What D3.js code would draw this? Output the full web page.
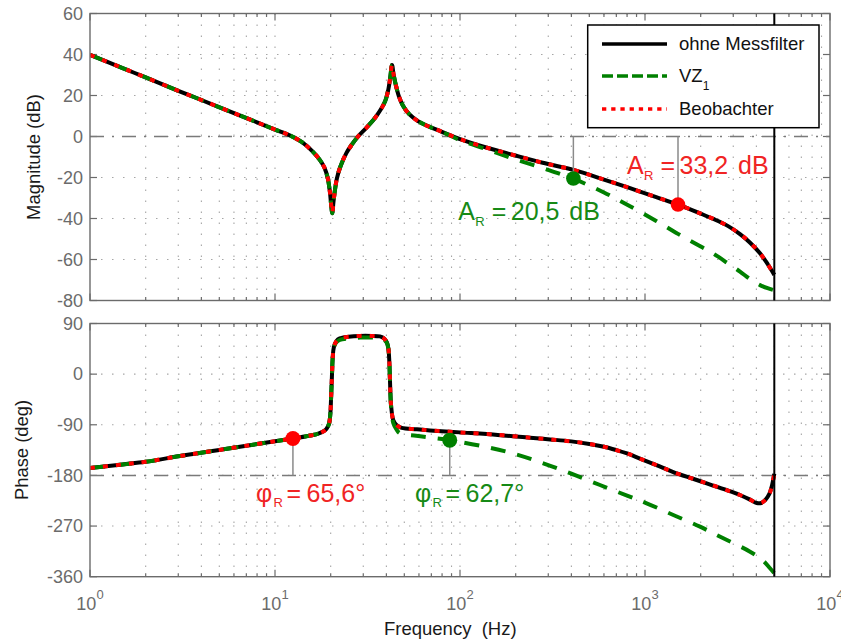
<!DOCTYPE html>
<html><head><meta charset="utf-8">
<script src="https://cdn.jsdelivr.net/npm/d3@7"></script>
<style>
body{margin:0;background:#fff}
svg{display:block}
text{font-family:"Liberation Sans",Arial,Helvetica,sans-serif}
</style>
</head><body>
<svg id="chart" width="841" height="640"></svg>
<script>
// ---------------- DATA ----------------
// Magnitude (dB) vs frequency (Hz)
const magFreq = [1,1.5,2,3,4,6,8,10,12,14,16,17.5,18.5,19.3,19.8,20.1,20.4,20.7,21.1,21.6,22.5,24.3,26,28.1,31,34.6,37.5,39.5,41,42,42.9,43.8,45.3,47,49.2,53,59.3,68,79.3,100,140,194,280,410,600,830,1150,1508,2000,2340,2800,3262,3700,4185,4600,5000];
const magOhne = [39.8,33.4,28.8,22.3,17.8,11.4,6.9,3.4,0.6,-2.8,-7.4,-11.5,-15.2,-20.5,-27,-33,-37.4,-32,-26,-20.5,-15,-8.1,-4,0,4,8.9,13.5,17.5,23,29,34.9,30,24,19,15,11,7.5,4.8,2.4,-1.3,-5.5,-9.0,-12.8,-16.3,-21.0,-25.2,-29.6,-33.2,-37.6,-40.2,-43.6,-47.6,-51.8,-57.0,-62.2,-67.5];
const magVZ   = [39.8,33.4,28.8,22.3,17.8,11.4,6.9,3.4,0.6,-2.8,-7.4,-11.5,-15.2,-20.5,-27,-33,-37.4,-32,-26,-20.5,-15,-8.1,-4,0,4,8.9,13.5,17.5,23,29,34.9,30,24,19,15,11,7.5,4.8,2.4,-1.8,-6.3,-10.8,-15.4,-20.6,-27.3,-34.0,-41.2,-47.5,-53.7,-57.1,-61.8,-65.9,-69.6,-72.5,-74.0,-75];
const magBeob = [39.8,33.4,28.8,22.3,17.8,11.4,6.9,3.4,0.6,-2.8,-7.4,-11.5,-15.2,-20.5,-27,-33,-37.4,-32,-26,-20.5,-15,-8.1,-4,0,4,8.9,13.5,17.5,23,29,34.9,30,24,19,15,11,7.5,4.8,2.4,-1.3,-5.5,-9.0,-12.8,-16.3,-21.0,-25.2,-29.6,-33.2,-37.6,-40.2,-43.6,-47.6,-51.8,-57.0,-62.2,-67.5];

// Phase (deg) vs frequency (Hz)
const phaseFreq = [1,1.5,2,3,3.6,5,7,10,12.5,15,17,18.2,19,19.6,19.9,20.1,20.3,20.5,20.8,21.5,22.4,25,28.9,33,36.9,39,40.3,41,41.5,41.9,42.4,43.6,45.5,48.4,58.5,68.8,100,160,239,307,400,500,600,700,800,939,1200,1422,1800,2155,2700,3262,3700,4016,4250,4474,4700,4840,5000];
const phaseOhne = [-167,-160.5,-155.8,-146,-142,-134.7,-127.3,-119.3,-114.4,-110,-106,-102,-97,-88,-72,-42,-6,28,48,59,63.5,66.5,68,68,67,63,56,46,22,-18,-55,-82,-91,-95.5,-98,-100,-103.5,-108,-113,-116,-119.5,-124,-129,-135,-141,-150,-164,-174,-185.5,-194,-205,-214.8,-223,-229,-229,-223.6,-213,-200,-177];
const phaseBeob = [-167,-160.5,-155.8,-146,-142,-134.7,-127.3,-119.3,-114.4,-110,-106,-102,-97,-88,-72,-42,-6,28,48,59,63.5,66.5,68,68,67,63,56,46,22,-18,-55,-82,-91,-95.5,-98,-100,-103.5,-108,-113,-116,-119.5,-124,-129,-135,-141,-150,-164,-174,-185.5,-194,-205,-214.8,-223,-229,-229,-223.6,-213,-200,-177];
const phaseFreqVZ = [1,1.5,2,3,3.6,5,7,10,12.5,15,17,18.2,19,19.6,19.9,20.1,20.3,20.5,20.8,21.5,22.4,25,28.9,33,36.9,39,40.3,41,41.5,41.9,42.4,43.6,45.5,47.3,58,70,88,134,194,282,400,571,800,1021,1422,1983,2650,3696,4300,4740,5000];
const phaseVZ = [-167,-160.5,-155.8,-146,-142,-134.7,-127.3,-119.3,-114.4,-110,-106,-102,-97,-88,-72,-42,-6,28,48,57,61,63.5,65,65,64.5,61,55,45,22,-18,-58,-87,-99,-105,-109.5,-113,-117.3,-128.5,-141,-158.4,-177,-197,-216,-229.5,-250.3,-271.1,-291.7,-315.5,-330,-345,-354];

// Nyquist frequency line
const nyquistFreq = 5000;

// Margins (markers + labels)
const gainMarginFreq = [410, 1508];
const gainMarginDb   = [-20.5, -33.2];
const gainMarginText = ["20,5", "33,2"];
const phaseMarginFreq = [12.5, 88];
const phaseMarginDeg  = [-114.4, -117.3];
const phaseMarginText = ["65,6°", "62,7°"];

// Tick values
const magTicks = [-80,-60,-40,-20,0,20,40,60];
const phaseTicks = [-360,-270,-180,-90,0,90];
const decadeExps = [0,1,2,3,4];
const legendLabels = ["ohne Messfilter", "VZ", "Beobachter"];

// ---------------- CHART ----------------
const svg = d3.select("#chart");
const AX = "#6b6b6b";
const GREEN = "#008000", RED = "#ff0000";
const GREEN_T = "#168a16", RED_T = "#f02424";

const x = d3.scaleLog().domain([1, 1e4]).range([90, 830]);
const yM = d3.scaleLinear().domain([-80, 60]).range([300.5, 13.5]);
const yP = d3.scaleLinear().domain([-360, 90]).range([576.7, 323.5]);

const allXTicks = x.ticks(); // 1,2,...,10000
const isMajor = v => Math.abs(Math.log10(v) - Math.round(Math.log10(v))) < 1e-9;

function panel(y, yTicks, id) {
  const [y0, y1] = y.range(); // bottom, top
  const [x0, x1] = x.range();
  const g = svg.append("g");
  svg.append("clipPath").attr("id", id).append("rect")
    .attr("x", x0).attr("y", y1).attr("width", x1 - x0).attr("height", y0 - y1);

  // grid
  const grid = g.append("g").attr("stroke", "#a6a6a6").attr("stroke-width", 1.1)
    .attr("stroke-dasharray", "1.5,9.5");
  grid.selectAll("line.v").data(allXTicks.filter(v => v > 1 && v < 1e4)).join("line")
    .attr("x1", d => x(d)).attr("x2", d => x(d)).attr("y1", y1).attr("y2", y0);
  grid.selectAll("line.h").data(yTicks.slice(1, -1)).join("line")
    .attr("x1", x0).attr("x2", x1).attr("y1", d => y(d)).attr("y2", d => y(d));

  // ticks
  const tk = g.append("g").attr("stroke", AX).attr("stroke-width", 1.2);
  allXTicks.forEach(v => {
    const L = isMajor(v) ? 7 : 3.5;
    tk.append("line").attr("x1", x(v)).attr("x2", x(v)).attr("y1", y0).attr("y2", y0 - L);
    tk.append("line").attr("x1", x(v)).attr("x2", x(v)).attr("y1", y1).attr("y2", y1 + L);
  });
  yTicks.forEach(v => {
    tk.append("line").attr("x1", x0).attr("x2", x0 + 7).attr("y1", y(v)).attr("y2", y(v));
    tk.append("line").attr("x1", x1).attr("x2", x1 - 7).attr("y1", y(v)).attr("y2", y(v));
  });

  // y tick labels
  g.append("g").selectAll("text").data(yTicks).join("text")
    .attr("x", 83).attr("y", d => y(d)).attr("dy", "0.35em")
    .attr("text-anchor", "end").attr("font-size", 18).attr("fill", AX)
    .text(d => d);

  return {g, x0, x1, y0, y1};
}

const P1 = panel(yM, magTicks, "clipM");
const P2 = panel(yP, phaseTicks, "clipP");

// reference dash-dot lines
function refLine(P, yv) {
  P.g.append("line").attr("x1", P.x0).attr("x2", P.x1).attr("y1", yv).attr("y2", yv)
    .attr("stroke", "#7a7a7a").attr("stroke-width", 1.5).attr("stroke-dasharray", "14,8,2,8");
}
refLine(P1, yM(0));
refLine(P2, yP(-180));

// curves
function curve(P, fr, vals, y, color, w, dash, clip) {
  const line = d3.line().x(d => x(d[0])).y(d => y(d[1])).curve(d3.curveCatmullRom.alpha(0.5));
  P.g.append("path").datum(fr.map((f, i) => [f, vals[i]]))
    .attr("clip-path", `url(#${clip})`)
    .attr("d", line).attr("fill", "none").attr("stroke", color)
    .attr("stroke-width", w).attr("stroke-dasharray", dash)
    .attr("stroke-linejoin", "round");
}
curve(P1, magFreq, magOhne, yM, "#000", 4, null, "clipM");
curve(P1, magFreq, magVZ, yM, GREEN, 4, "15,12", "clipM");
curve(P1, magFreq, magBeob, yM, RED, 4, "5,8", "clipM");
curve(P2, phaseFreq, phaseOhne, yP, "#000", 4, null, "clipP");
curve(P2, phaseFreqVZ, phaseVZ, yP, GREEN, 4, "15,12", "clipP");
curve(P2, phaseFreq, phaseBeob, yP, RED, 4, "5,8", "clipP");

// box
[P1, P2].forEach(P => {
  P.g.append("rect").attr("x", P.x0).attr("y", P.y1).attr("width", P.x1 - P.x0)
    .attr("height", P.y0 - P.y1).attr("fill", "none").attr("stroke", AX).attr("stroke-width", 1.4);
  // Nyquist line
  P.g.append("line").attr("x1", x(nyquistFreq)).attr("x2", x(nyquistFreq))
    .attr("y1", P.y1).attr("y2", P.y0).attr("stroke", "#000").attr("stroke-width", 2);
});

// margin markers + stems
const gmColors = [GREEN, RED], gmText = [GREEN_T, RED_T];
gainMarginFreq.forEach((f, i) => {
  P1.g.append("line").attr("x1", x(f)).attr("x2", x(f)).attr("y1", yM(0)).attr("y2", yM(gainMarginDb[i]))
    .attr("stroke", "#8a8a8a").attr("stroke-width", 1.5);
  P1.g.append("circle").attr("cx", x(f)).attr("cy", yM(gainMarginDb[i])).attr("r", 7.3).attr("fill", gmColors[i]);
});
const pmColors = [RED, GREEN], pmText = [RED_T, GREEN_T];
phaseMarginFreq.forEach((f, i) => {
  P2.g.append("line").attr("x1", x(f)).attr("x2", x(f)).attr("y1", yP(-180)).attr("y2", yP(phaseMarginDeg[i]))
    .attr("stroke", "#8a8a8a").attr("stroke-width", 1.5);
  P2.g.append("circle").attr("cx", x(f)).attr("cy", yP(phaseMarginDeg[i])).attr("r", 7.5).attr("fill", pmColors[i]);
});

// rich text helper: parts = [text, dxFromStart, fontSize, dyFromBaseline]
function rich(x0, y0, parts, color) {
  const t = svg.append("text").attr("fill", color);
  parts.forEach(p => {
    t.append("tspan").attr("x", x0 + p[1]).attr("y", y0 + p[3]).attr("font-size", p[2]).text(p[0]);
  });
}
// gain margin labels
const gmPos = [[458.3, 220], [627, 174.3]];
gainMarginText.forEach((s, i) => {
  rich(gmPos[i][0], gmPos[i][1], [["A", 0, 25, 0], ["R", 17, 13, 6], ["=", 33.5, 25, 0], [s, 52.5, 25, 0], ["dB", 111, 25, 0]], gmText[i]);
});
// phase margin labels
const pmPos = [[256, 501.7], [415, 501.7]];
phaseMarginText.forEach((s, i) => {
  rich(pmPos[i][0], pmPos[i][1], [["φ", 0, 25, 0], ["R", 17.5, 13, 5.6], ["=", 30.5, 25, 0], [s, 50.5, 25, 0]], pmText[i]);
});

// x tick labels (bottom)
const xl = svg.append("g").attr("fill", AX);
decadeExps.forEach(k => {
  const t = xl.append("text").attr("x", x(Math.pow(10, k))).attr("y", 610)
    .attr("text-anchor", "middle").attr("font-size", 18);
  t.append("tspan").text("10");
  t.append("tspan").attr("dy", -11).attr("font-size", 13).text(k);
});

// axis titles
svg.append("text").attr("transform", "translate(40,157) rotate(-90)")
  .attr("text-anchor", "middle").attr("font-size", 18.4).attr("fill", "#1a1a1a").text("Magnitude (dB)");
svg.append("text").attr("transform", "translate(28,450) rotate(-90)")
  .attr("text-anchor", "middle").attr("font-size", 18.4).attr("fill", "#1a1a1a").text("Phase (deg)");
svg.append("text").attr("x", 384).attr("y", 635).attr("font-size", 18.5).attr("fill", "#1a1a1a")
  .text("Frequency\u00A0 (Hz)");

// legend
const lg = svg.append("g");
lg.append("rect").attr("x", 587.7).attr("y", 25).attr("width", 231.3).attr("height", 102.7)
  .attr("fill", "#fff").attr("stroke", "#000").attr("stroke-width", 1.5);
const legStyles = [["#000", null], [GREEN, "11,4"], [RED, "4.3,4.9"]];
const legY = [44, 76, 109];
legendLabels.forEach((lab, i) => {
  lg.append("line").attr("x1", 602).attr("x2", 667).attr("y1", legY[i]).attr("y2", legY[i])
    .attr("stroke", legStyles[i][0]).attr("stroke-width", 3.6).attr("stroke-dasharray", legStyles[i][1]);
  const t = lg.append("text").attr("x", 679).attr("y", legY[i] + 6).attr("font-size", 18.5).attr("fill", "#111");
  t.append("tspan").text(lab);
  if (i === 1) t.append("tspan").attr("dy", 8.4).attr("font-size", 12).text("1");
});
</script>
</body></html>
